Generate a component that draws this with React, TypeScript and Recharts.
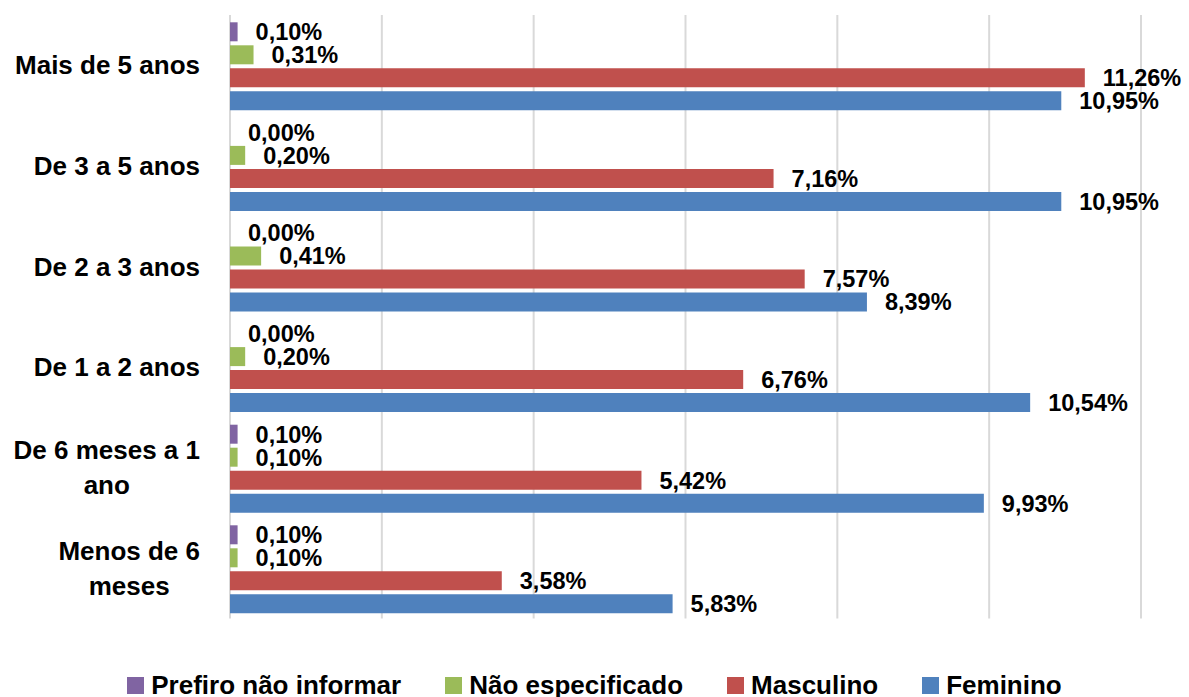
import React from "react";
import { BarChart, Bar, XAxis, YAxis, CartesianGrid, Legend, LabelList } from "recharts";

// Categories in Excel order (bottom to top)
const categories = [
  "Menos de 6 meses",
  "De 6 meses a 1 ano",
  "De 1 a 2 anos",
  "De 2 a 3 anos",
  "De 3 a 5 anos",
  "Mais de 5 anos",
];

const prefiroNaoInformar = [0.1, 0.1, 0.0, 0.0, 0.0, 0.1];
const naoEspecificado = [0.1, 0.1, 0.2, 0.41, 0.2, 0.31];
const masculino = [3.58, 5.42, 6.76, 7.57, 7.16, 11.26];
const feminino = [5.83, 9.93, 10.54, 8.39, 10.95, 10.95];

const xTicks = [0, 2, 4, 6, 8, 10, 12];

const seriesNames = ["Prefiro não informar", "Não especificado", "Masculino", "Feminino"];
const seriesKeys = ["prefiro", "naoEsp", "masc", "fem"];
const seriesColors = ["#8064A2", "#9BBB59", "#C0504D", "#4F81BD"];

const data = categories.map((c, i) => ({
  category: c,
  prefiro: prefiroNaoInformar[i],
  naoEsp: naoEspecificado[i],
  masc: masculino[i],
  fem: feminino[i],
}));

const FONT = "'Liberation Sans', Arial, sans-serif";
const CAT_FONT_SIZE = 26;
const VALUE_FONT_SIZE = 23.5;
const W = 1189;
const H = 697;

let canvasCtx: CanvasRenderingContext2D | null = null;
function measure(text: string, size: number): number {
  try {
    if (!canvasCtx) {
      const c = document.createElement("canvas");
      canvasCtx = c.getContext("2d");
    }
    if (canvasCtx) {
      canvasCtx.font = `bold ${size}px ${FONT}`;
      return canvasCtx.measureText(text).width;
    }
  } catch (e) {
    /* ignore */
  }
  return text.length * size * 0.55;
}

function wrap(text: string, maxW: number, size: number): string[] {
  const words = text.split(" ");
  const lines: string[] = [];
  let cur = "";
  for (const w of words) {
    const test = cur ? cur + " " + w : w;
    if (cur && measure(test, size) > maxW) {
      lines.push(cur);
      cur = w;
    } else {
      cur = test;
    }
  }
  if (cur) lines.push(cur);
  return lines;
}

const CategoryTick = (props: any) => {
  const { x, y, payload } = props;
  const lines = wrap(String(payload.value), 190, CAT_FONT_SIZE);
  const lineH = 35;
  const first = y + 9 - ((lines.length - 1) * lineH) / 2;
  if (lines.length === 1) {
    return (
      <text x={x} y={first} textAnchor="end" fontFamily={FONT} fontWeight="bold" fontSize={CAT_FONT_SIZE} fill="#000">
        {lines[0]}
      </text>
    );
  }
  const block = Math.max(...lines.map((l) => measure(l, CAT_FONT_SIZE)));
  const cx = x - block / 2;
  return (
    <text textAnchor="middle" fontFamily={FONT} fontWeight="bold" fontSize={CAT_FONT_SIZE} fill="#000">
      {lines.map((l, i) => (
        <tspan key={i} x={cx} y={first + i * lineH}>
          {l}
        </tspan>
      ))}
    </text>
  );
};

const fmt = (v: any) => Number(v).toFixed(2).replace(".", ",") + "%";

const renderLegend = () => {
  return (
    <div
      style={{
        display: "flex",
        justifyContent: "center",
        alignItems: "center",
        fontFamily: FONT,
        fontWeight: "bold",
        fontSize: CAT_FONT_SIZE,
        lineHeight: "30px",
        color: "#000",
        whiteSpace: "nowrap",
      }}
    >
      {seriesNames.map((name, i) => (
        <div key={i} style={{ display: "flex", alignItems: "center", marginRight: i < seriesNames.length - 1 ? 44 : 0 }}>
          <span style={{ display: "inline-block", width: 17, height: 17, background: seriesColors[i], marginRight: 7 }} />
          <span>{name}</span>
        </div>
      ))}
    </div>
  );
};

export default function App() {
  return (
    <div style={{ position: "absolute", left: 0, top: 0, width: W, height: H, background: "#fff", overflow: "hidden" }}>
      <BarChart
        width={W}
        height={H}
        data={data}
        layout="vertical"
        margin={{ top: 15, right: 48, left: 0, bottom: 78.4 }}
        barCategoryGap={7.3}
        barGap={4}
      >
        <CartesianGrid horizontal={false} vertical={true} stroke="#D9D9D9" strokeWidth={2} />
        <XAxis type="number" domain={[0, 12]} ticks={xTicks} hide />
        <YAxis
          type="category"
          dataKey="category"
          width={230}
          reversed
          axisLine={false}
          tickLine={false}
          tickSize={0}
          tickMargin={30}
          interval={0}
          tick={<CategoryTick />}
        />
        <Legend
          layout="horizontal"
          verticalAlign="middle"
          align="center"
          wrapperStyle={{ top: 670, left: 0, width: W }}
          content={renderLegend}
        />
        {seriesKeys.map((k, i) => (
          <Bar
            key={k}
            dataKey={k}
            name={seriesNames[i]}
            fill={seriesColors[i]}
            minPointSize={0.01}
            isAnimationActive={false}
          >
            <LabelList
              dataKey={k}
              position="right"
              offset={18}
              formatter={fmt}
              fill="#000"
              fontFamily={FONT}
              fontWeight="bold"
              fontSize={VALUE_FONT_SIZE}
            />
          </Bar>
        ))}
      </BarChart>
    </div>
  );
}
